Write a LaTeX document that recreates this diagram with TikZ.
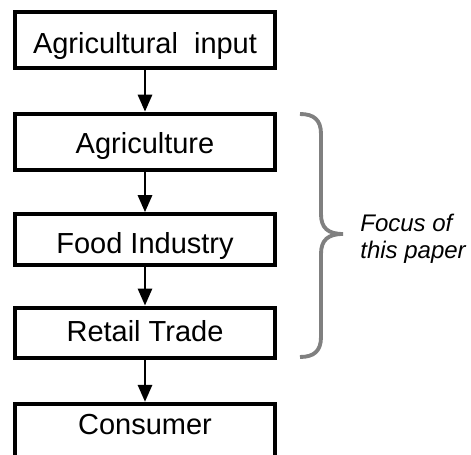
\documentclass[tikz,border=0pt]{standalone}
\usepackage{fontspec}
\setmainfont{Liberation Sans}
\usetikzlibrary{arrows.meta}
\definecolor{bracegray}{RGB}{128,128,128}

\begin{document}
\begin{tikzpicture}[x=0.02cm,y=-0.02cm,
  stage/.style={draw, line width=2.4pt, minimum width=5.2cm, inner xsep=0pt, inner ysep=0pt,
    anchor=base, font=\fontsize{16.5}{20}\selectfont},
  flow/.style={line width=1.6pt, -{Triangle[width=0.28cm,length=0.34cm]}}]
\useasboundingbox (0,0) rectangle (471,455);

\node [stage, text height=0.83cm, text depth=0.30cm] (input) at (145,53.3) {Agricultural~ input};
\node [stage, text height=0.79cm, text depth=0.33cm] (agri) at (145,153.3) {Agriculture};
\node [stage, text height=0.78cm, text depth=0.23cm] (food) at (145,253.3) {Food Industry};
\node [stage, text height=0.68cm, text depth=0.33cm] (retail) at (145,341.7) {Retail Trade};
\node [stage, text height=0.62cm, text depth=1.0cm] (consumer) at (145,435) {Consumer};

\draw [flow] (input) -- (agri);
\draw [flow] (agri) -- (food);
\draw [flow] (food) -- (retail);
\draw [flow] (retail) -- (consumer);

\draw [bracegray, line width=2.2pt] (300,114) .. controls (314,114) and (321,120) .. (321,134)
-- (321,214) .. controls (321,228) and (328,234) .. (343,234) .. controls (328,234) and (321,240) ..
(321,254) -- (321,337) .. controls (321,351) and (314,357) .. (300,357);

\node [anchor=west, align=left, inner sep=0pt, font=\fontsize{13.66}{15.1}\selectfont\itshape] (focus) at (360,239) {Focus of\\this paper};

\end{tikzpicture}
\end{document}
